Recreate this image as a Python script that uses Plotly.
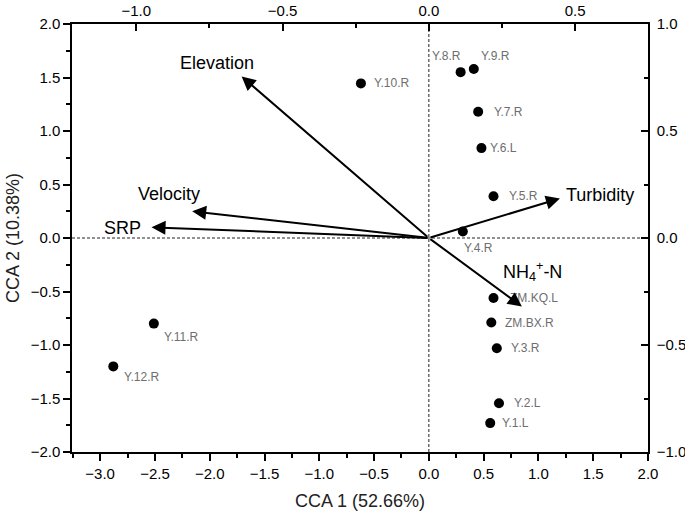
import plotly.graph_objects as go

# ---- data ----
sites = ["Y.1.L", "Y.2.L", "Y.3.R", "Y.4.R", "Y.5.R", "Y.6.L", "Y.7.R", "Y.8.R",
         "Y.9.R", "Y.10.R", "Y.11.R", "Y.12.R", "ZM.KQ.L", "ZM.BX.R"]
site_cca1 = [0.56, 0.64, 0.62, 0.31, 0.59, 0.48, 0.45, 0.29, 0.41, -0.62, -2.51, -2.88, 0.59, 0.57]
site_cca2 = [-1.73, -1.545, -1.03, 0.06, 0.39, 0.84, 1.18, 1.55, 1.58, 1.445, -0.80, -1.20, -0.56, -0.79]

env_names = ["Elevation", "Velocity", "SRP", "Turbidity", "NH<sub>4</sub><sup>+</sup>-N"]
env_cca1 = [-0.640, -0.809, -0.948, 0.448, 0.318]   # top axis units
env_cca2 = [0.755, 0.125, 0.05, 0.185, -0.32]       # right axis units

x_title = "CCA 1 (52.66%)"
y_title = "CCA 2 (10.38%)"

# ---- styles ----
FONT = "Liberation Sans, Arial, sans-serif"
XR = [-3.257, 2.0]
YR = [-2.0, 2.0]
SCALE_X = 2.67
SCALE_Y = 2.0

site_label_style = {
    "Y.1.L": ("left", 10, 0), "Y.2.L": ("left", 13, 0), "Y.3.R": ("left", 12, 0),
    "Y.4.R": ("left", -1, -16), "Y.5.R": ("left", 13, 0), "Y.6.L": ("left", 7, 0),
    "Y.7.R": ("left", 14, 0), "Y.8.R": ("center", -14, 16), "Y.9.R": ("center", 22, 13),
    "Y.10.R": ("left", 11, 0), "Y.11.R": ("left", 8, -13), "Y.12.R": ("left", 9, -11),
    "ZM.KQ.L": ("left", 14, 0), "ZM.BX.R": ("left", 12, 0),
}
env_label_style = {
    "Elevation": ("center", -25, 13),
    "Velocity": ("center", -23, 17),
    "SRP": ("right", -9, -1),
    "Turbidity": ("left", 4, 3),
    "NH<sub>4</sub><sup>+</sup>-N": ("center", 11, 35),
}

fig = go.Figure()

fig.add_trace(go.Scatter(
    x=site_cca1, y=site_cca2, mode="markers",
    marker=dict(size=10, color="black"),
    hoverinfo="text", text=sites, showlegend=False,
    xaxis="x", yaxis="y",
))
# invisible trace to activate secondary axes
fig.add_trace(go.Scatter(
    x=env_cca1, y=env_cca2, mode="markers", marker=dict(size=1, opacity=0),
    showlegend=False, hoverinfo="skip", xaxis="x2", yaxis="y2",
))

annotations = []
for s, xv, yv in zip(sites, site_cca1, site_cca2):
    anc, dx, dy = site_label_style[s]
    annotations.append(dict(
        x=xv, y=yv, xref="x", yref="y", text=s, showarrow=False,
        xanchor=anc, yanchor="middle", xshift=dx, yshift=dy,
        font=dict(family=FONT, size=12, color="#6e6e6e"),
    ))

for n, xv, yv in zip(env_names, env_cca1, env_cca2):
    annotations.append(dict(
        x=xv, y=yv, xref="x2", yref="y2", ax=0, ay=0, axref="x2", ayref="y2",
        text="", showarrow=True, arrowhead=2, arrowsize=1.4, arrowwidth=2,
        arrowcolor="black", standoff=0, startstandoff=0,
    ))
    anc, dx, dy = env_label_style[n]
    annotations.append(dict(
        x=xv, y=yv, xref="x2", yref="y2", text=n, showarrow=False,
        xanchor=anc, yanchor="middle", xshift=dx, yshift=dy,
        font=dict(family=FONT, size=18, color="black"),
    ))

shapes = [
    dict(type="line", xref="x", yref="y", x0=0, x1=0, y0=YR[0], y1=YR[1],
         line=dict(color="#222222", width=1, dash="3px,2px"), layer="below"),
    dict(type="line", xref="x", yref="y", x0=XR[0], x1=XR[1], y0=0, y1=0,
         line=dict(color="#222222", width=1, dash="3px,2px"), layer="below"),
]

axis_common = dict(
    showgrid=False, zeroline=False, showline=True, linecolor="black", linewidth=1.5,
    tickcolor="black", tickwidth=1.5, dtick=0.5, tickformat=".1f", automargin=False,
    tickfont=dict(family=FONT, size=15, color="black"),
)

fig.update_layout(
    width=685, height=515,
    margin=dict(l=72, r=37, t=24, b=63),
    paper_bgcolor="white", plot_bgcolor="white",
    xaxis=dict(range=XR, ticks="outside", ticklen=7, tick0=0,
               minor=dict(ticks="outside", ticklen=4, dtick=0.25, tickcolor="black", tickwidth=1.5),
               title=dict(text=x_title, font=dict(family=FONT, size=18, color="#222"), standoff=14),
               **axis_common),
    yaxis=dict(range=YR, ticks="outside", ticklen=7, tick0=0,
               minor=dict(ticks="outside", ticklen=4, dtick=0.25, tickcolor="black", tickwidth=1.5),
               title=dict(text=y_title, font=dict(family=FONT, size=18, color="#222"), standoff=6),
               **axis_common),
    xaxis2=dict(range=[XR[0] / SCALE_X, XR[1] / SCALE_X], overlaying="x", side="top",
                ticks="inside", ticklen=7, tick0=0,
                minor=dict(ticks="inside", ticklen=4, dtick=0.25, tickcolor="black", tickwidth=1.5),
                **axis_common),
    yaxis2=dict(range=[YR[0] / SCALE_Y, YR[1] / SCALE_Y], overlaying="y", side="right",
                ticks="inside", ticklen=7, tick0=0, ticklabelstandoff=4,
                minor=dict(ticks="inside", ticklen=4, dtick=0.25, tickcolor="black", tickwidth=1.5),
                **axis_common),
    annotations=annotations,
    shapes=shapes,
)

# remove the default page body margin so the 685x515 figure fills the window
fig.write_html("out.html", config={"displayModeBar": False},
               post_script="document.body.style.margin='0';")
